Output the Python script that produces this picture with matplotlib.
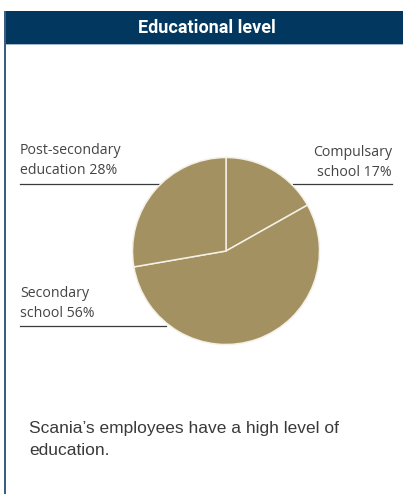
import matplotlib
matplotlib.use("Agg")
import matplotlib.pyplot as plt
from matplotlib.patches import Rectangle
from matplotlib.lines import Line2D

# Share of employees by educational level (%)
categories = ["Compulsary\nschool", "Secondary\nschool", "Post-secondary\neducation"]
shares = [17, 56, 28]
title = "Educational level"
caption = "Scania’s employees have a high level of\neducation."

W, H = 403, 494
fig = plt.figure(figsize=(W / 100, H / 100), dpi=100)
fig.patch.set_facecolor("white")

# Overlay axes in pixel coordinates for the frame, labels and leader lines
bg = fig.add_axes([0, 0, 1, 1])
bg.set_xlim(0, W)
bg.set_ylim(H, 0)
bg.axis("off")

navy = "#02375f"
bg.add_patch(Rectangle((4, 11), W - 4, 33, facecolor=navy, edgecolor="none"))
bg.add_patch(Rectangle((4, 44), W - 4, 1.2, facecolor="#9fb7cc", edgecolor="none"))
bg.add_patch(Rectangle((4, 11), 2, H - 11, facecolor="#3b5f82", edgecolor="none"))
bg.text(206.5, 28, title, color="white", fontsize=13, fontweight="bold",
        family=["Roboto", "DejaVu Sans"], ha="center", va="center")

# Pie
cx, cy, r = 226, 251, 93.5
pax = fig.add_axes([(cx - r) / W, 1 - (cy + r) / H, 2 * r / W, 2 * r / H])
pax.pie(shares, startangle=90, counterclock=False, colors=["#a39161"] * 3,
        wedgeprops=dict(edgecolor="#f4f0e6", linewidth=1.1))
pax.set_xlim(-1, 1)
pax.set_ylim(-1, 1)
pax.set_aspect("auto")
pax.axis("off")

lab_kw = dict(color="#444444", fontsize=10.2, family=["Open Sans", "DejaVu Sans"],
              linespacing=1.45)
line_kw = dict(color="#3a3a3a", linewidth=0.9)

labels = [f"{c} {v}%" for c, v in zip(categories, shares)]
# Compulsory school (right)
bg.text(392, 180, labels[0], ha="right", va="bottom", **lab_kw)
bg.add_line(Line2D([293, 392], [184.5, 184.5], **line_kw))
# Secondary school (lower left)
bg.text(20, 321, labels[1], ha="left", va="bottom", **lab_kw)
bg.add_line(Line2D([20, 166], [325.5, 325.5], **line_kw))
# Post-secondary education (upper left)
bg.text(20, 178, labels[2], ha="left", va="bottom", **lab_kw)
bg.add_line(Line2D([20, 160], [184.5, 184.5], **line_kw))

bg.text(29, 439.5, caption, ha="left", va="center", color="#3a3a3a", fontsize=12.5,
        family=["Liberation Sans", "DejaVu Sans"], linespacing=1.6)

fig.savefig("out.png", dpi=100, facecolor="white")
